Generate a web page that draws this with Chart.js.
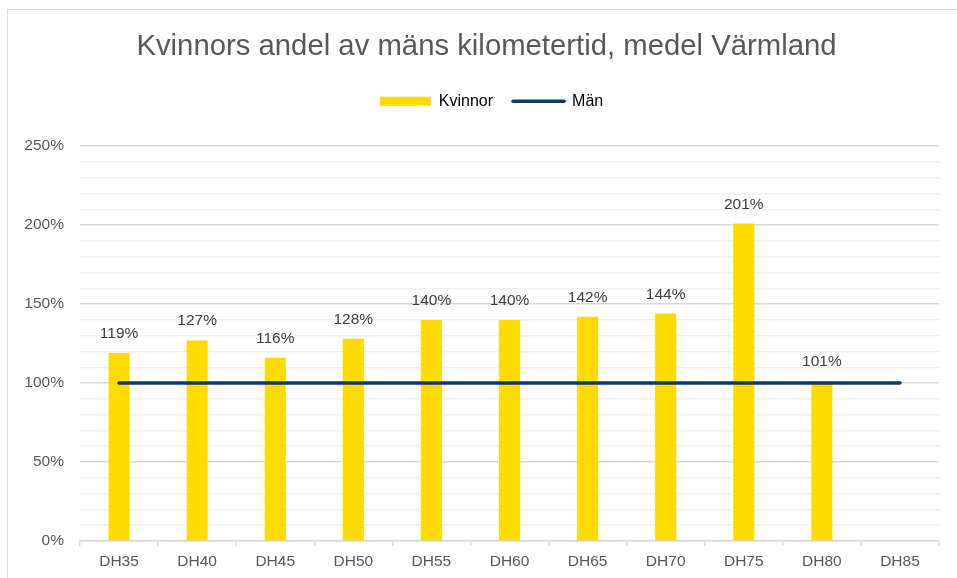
<!DOCTYPE html>
<html>
<head>
<meta charset="utf-8">
<script src="https://cdn.jsdelivr.net/npm/chart.js@4/dist/chart.umd.min.js"></script>
<style>
  html, body { margin: 0; padding: 0; background: #ffffff; }
  #wrap { position: relative; width: 957px; height: 578px; overflow: hidden; }
  #frame { position: absolute; left: 7px; top: 9px; width: 1000px; height: 1000px; border: 1.5px solid #d9d9d9; box-sizing: border-box; }
  canvas { position: absolute; left: 0; top: 0; }
</style>
</head>
<body>
<div id="wrap">
  <div id="frame"></div>
  <canvas id="c" width="957" height="578"></canvas>
</div>
<script>
const titleText = 'Kvinnors andel av mäns kilometertid, medel Värmland';
const categories = ['DH35', 'DH40', 'DH45', 'DH50', 'DH55', 'DH60', 'DH65', 'DH70', 'DH75', 'DH80', 'DH85'];
const kvinnor = [119, 127, 116, 128, 140, 140, 142, 144, 201, 101, null];
const man = [100, 100, 100, 100, 100, 100, 100, 100, 100, 100, 100];
const seriesNames = ['Kvinnor', 'Män'];

const YELLOW = '#FFDC00';
const NAVY = '#0d3b69';
const TEXT = '#595959';
const FONT = "'Liberation Sans', Arial, sans-serif";

const dataLabels = {
  id: 'dataLabels',
  afterDatasetsDraw(chart) {
    const ctx = chart.ctx;
    const meta = chart.getDatasetMeta(0);
    ctx.save();
    ctx.font = '15.5px ' + FONT;
    ctx.fillStyle = '#404040';
    ctx.textAlign = 'center';
    ctx.textBaseline = 'alphabetic';
    meta.data.forEach((bar, i) => {
      const v = kvinnor[i];
      if (v === null || v === undefined) return;
      ctx.fillText(Math.round(v) + '%', bar.x, bar.y - 15);
    });
    ctx.restore();
  }
};

// Extra space below the legend, and small horizontal nudges of title/legend
const boxTweaks = {
  id: 'boxTweaks',
  beforeInit(chart) {
    const lg = chart.legend;
    const origFit = lg.fit;
    lg.fit = function () {
      origFit.call(this);
      this.height += 27;
    };
    const origLgDraw = lg.draw;
    lg.draw = function () {
      const ctx = this.ctx;
      ctx.save();
      ctx.translate(11, 0);
      origLgDraw.call(this);
      ctx.restore();
    };
    const tt = chart.titleBlock;
    if (tt) {
      const origTtDraw = tt.draw;
      tt.draw = function () {
        const ctx = this.ctx;
        ctx.save();
        ctx.translate(6, 0);
        origTtDraw.call(this);
        ctx.restore();
      };
    }
  }
};

new Chart(document.getElementById('c'), {
  type: 'bar',
  data: {
    labels: categories,
    datasets: [
      {
        type: 'bar',
        label: seriesNames[0],
        data: kvinnor,
        backgroundColor: YELLOW,
        borderWidth: 0,
        categoryPercentage: 1,
        barPercentage: 0.27,
        order: 2
      },
      {
        type: 'line',
        label: seriesNames[1],
        data: man,
        borderColor: NAVY,
        backgroundColor: NAVY,
        borderWidth: 3.5,
        borderCapStyle: 'round',
        pointRadius: 0,
        pointHoverRadius: 0,
        fill: false,
        tension: 0,
        order: 1
      }
    ]
  },
  options: {
    responsive: false,
    animation: false,
    events: [],
    layout: { padding: { left: 22, right: 18, top: 0, bottom: 0 } },
    plugins: {
      title: {
        display: true,
        text: titleText,
        color: TEXT,
        font: { family: FONT, size: 29.3, weight: 'normal' },
        padding: { top: 29, bottom: 9 }
      },
      legend: {
        display: true,
        position: 'top',
        labels: {
          color: TEXT,
          font: { family: FONT, size: 16 },
          usePointStyle: true,
          pointStyleWidth: 51,
          boxHeight: 9,
          padding: 20,
          generateLabels() {
            return [
              { text: seriesNames[0], fillStyle: YELLOW, strokeStyle: YELLOW, lineWidth: 0, pointStyle: 'rect', datasetIndex: 0, hidden: false },
              { text: seriesNames[1], fillStyle: NAVY, strokeStyle: NAVY, lineWidth: 3.5, lineCap: 'round', pointStyle: 'line', datasetIndex: 1, hidden: false }
            ];
          }
        }
      },
      tooltip: { enabled: false }
    },
    scales: {
      x: {
        offset: true,
        grid: { offset: true, drawOnChartArea: false, drawTicks: true, tickLength: 5, color: '#d9d9d9', lineWidth: 1.5 },
        border: { display: true, color: '#d9d9d9', width: 1.5 },
        ticks: { color: TEXT, font: { family: FONT, size: 15.5 }, padding: 6, maxRotation: 0, autoSkip: false },
        afterFit(scale) { scale.height = 37; }
      },
      y: {
        min: 0,
        max: 250,
        grid: {
          drawTicks: false,
          color(ctx) { return (ctx.tick && ctx.tick.value % 50 === 0) ? '#d9d9d9' : '#f0f0f0'; },
          lineWidth: 1.5
        },
        border: { display: false },
        ticks: {
          stepSize: 10,
          autoSkip: false,
          color: TEXT,
          font: { family: FONT, size: 15.5 },
          padding: 16,
          callback(v) { return v % 50 === 0 ? v + '%' : ''; }
        },
        afterFit(scale) { scale.width = 58; }
      }
    }
  },
  plugins: [dataLabels, boxTweaks]
});
</script>
</body>
</html>
